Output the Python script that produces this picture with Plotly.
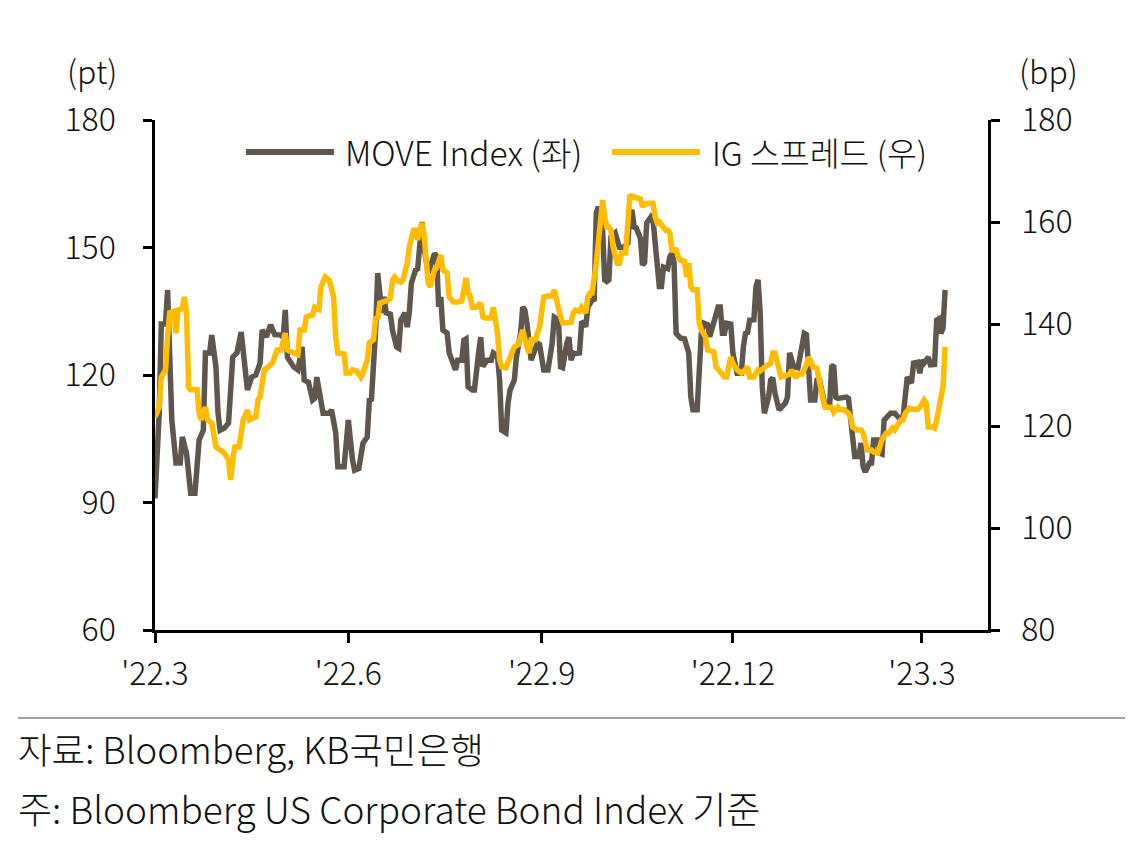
import plotly.graph_objects as go

# ---------------- data ----------------
move_dates = [
    "2022-03-01","2022-03-03","2022-03-04","2022-03-06","2022-03-07","2022-03-09","2022-03-11","2022-03-13",
    "2022-03-14","2022-03-16","2022-03-18","2022-03-20","2022-03-22","2022-03-24","2022-03-25","2022-03-27",
    "2022-03-28","2022-03-30","2022-03-31","2022-04-01","2022-04-03","2022-04-05","2022-04-07","2022-04-09",
    "2022-04-11","2022-04-13","2022-04-14","2022-04-16","2022-04-18","2022-04-20","2022-04-21","2022-04-23",
    "2022-04-25","2022-04-27","2022-04-30","2022-05-01","2022-05-02","2022-05-03","2022-05-04","2022-05-06",
    "2022-05-08","2022-05-10","2022-05-11","2022-05-13","2022-05-15","2022-05-16","2022-05-17","2022-05-19",
    "2022-05-20","2022-05-23","2022-05-24","2022-05-26","2022-05-27","2022-05-30","2022-06-01","2022-06-03",
    "2022-06-04","2022-06-06","2022-06-07","2022-06-08","2022-06-10","2022-06-11","2022-06-12","2022-06-13",
    "2022-06-14","2022-06-15","2022-06-16","2022-06-17","2022-06-18","2022-06-19","2022-06-21","2022-06-22",
    "2022-06-24","2022-06-25","2022-06-26","2022-06-28","2022-06-29","2022-06-30","2022-07-01","2022-07-03",
    "2022-07-04","2022-07-06","2022-07-07","2022-07-08","2022-07-09","2022-07-11","2022-07-12","2022-07-13",
    "2022-07-14","2022-07-15","2022-07-16","2022-07-18","2022-07-19","2022-07-22","2022-07-23","2022-07-25",
    "2022-07-26","2022-07-27","2022-07-28","2022-07-30","2022-07-31","2022-08-02","2022-08-03","2022-08-04",
    "2022-08-06","2022-08-08","2022-08-09","2022-08-11","2022-08-12","2022-08-13","2022-08-15","2022-08-16",
    "2022-08-17","2022-08-19","2022-08-20","2022-08-22","2022-08-23","2022-08-24","2022-08-25","2022-08-27",
    "2022-08-28","2022-08-30","2022-08-31","2022-09-02","2022-09-04","2022-09-06","2022-09-07","2022-09-09",
    "2022-09-10","2022-09-11","2022-09-13","2022-09-14","2022-09-15","2022-09-16","2022-09-17","2022-09-19",
    "2022-09-20","2022-09-21","2022-09-22","2022-09-23","2022-09-25","2022-09-26","2022-09-27","2022-09-28",
    "2022-09-30","2022-10-01","2022-10-02","2022-10-03","2022-10-04","2022-10-06","2022-10-08","2022-10-10",
    "2022-10-12","2022-10-13","2022-10-14","2022-10-15","2022-10-16","2022-10-18","2022-10-19","2022-10-20",
    "2022-10-21","2022-10-23","2022-10-24","2022-10-25","2022-10-26","2022-10-27","2022-10-28","2022-10-29",
    "2022-10-31","2022-11-01","2022-11-02","2022-11-03","2022-11-04","2022-11-06","2022-11-08","2022-11-10",
    "2022-11-11","2022-11-12","2022-11-14","2022-11-15","2022-11-16","2022-11-17","2022-11-19","2022-11-20",
    "2022-11-22","2022-11-24","2022-11-25","2022-11-26","2022-11-27","2022-11-28","2022-11-30","2022-12-01",
    "2022-12-03","2022-12-05","2022-12-06","2022-12-07","2022-12-08","2022-12-09","2022-12-11","2022-12-12",
    "2022-12-13","2022-12-14","2022-12-15","2022-12-16","2022-12-18","2022-12-19","2022-12-20","2022-12-21",
    "2022-12-23","2022-12-24","2022-12-26","2022-12-27","2022-12-28","2022-12-30","2022-12-31","2023-01-01",
    "2023-01-04","2023-01-05","2023-01-06","2023-01-07","2023-01-09","2023-01-10","2023-01-11","2023-01-12",
    "2023-01-14","2023-01-16","2023-01-17","2023-01-18","2023-01-19","2023-01-20","2023-01-22","2023-01-24",
    "2023-01-25","2023-01-26","2023-01-28","2023-01-30","2023-01-31","2023-02-01","2023-02-02","2023-02-04",
    "2023-02-05","2023-02-06","2023-02-08","2023-02-09","2023-02-10","2023-02-11","2023-02-12","2023-02-14",
    "2023-02-16","2023-02-17","2023-02-19","2023-02-20","2023-02-21","2023-02-22","2023-02-24","2023-02-25",
    "2023-02-27","2023-02-28","2023-03-01","2023-03-02","2023-03-04","2023-03-05","2023-03-07","2023-03-08",
    "2023-03-09","2023-03-10","2023-03-11","2023-03-12",
]
move_values = [
    91, 111, 132, 132, 140, 109.4, 99.3, 99.3,
    105.4, 101.6, 92.2, 92.2, 104.7, 107, 125.2, 125.2,
    129.4, 121.9, 111, 107, 107.5, 108.7, 124.2, 125.2,
    130.1, 118.8, 116.5, 119.5, 120, 122.8, 130.6, 129,
    131.8, 129.5, 129.4, 128.8, 135.3, 124.2, 123.5, 121.9,
    121.2, 126.6, 118.8, 118.3, 114.1, 114.5, 119.5, 114.8,
    111, 111, 111.8, 106.4, 98.4, 98.4, 109.4, 100,
    97.6, 98, 102.4, 104, 105.4, 114.1, 114.3, 121.9,
    130.6, 144, 139, 134.6, 138.4, 134.6, 134.3, 130.6,
    126.6, 126.3, 132.9, 134.6, 131.3, 134.6, 141.6, 144.7,
    145, 156, 150.1, 146.4, 144, 147, 148.6, 148,
    136, 138.4, 130.6, 129.9, 125.2, 121.2, 123.5, 123.5,
    128.2, 128.5, 117.2, 116.5, 116.5, 125.2, 128.9, 122,
    123.5, 123.5, 125.2, 124.5, 118.8, 107, 106.4, 113.4,
    116.5, 118.8, 124.2, 129.9, 136, 135.3, 132.2, 123.5,
    125.2, 127.5, 127.2, 121.2, 121.2, 127.5, 133.6, 133,
    121.9, 121.7, 127.5, 128.9, 123.5, 125.2, 125, 125.2,
    132.2, 132.4, 131.3, 136, 137.6, 137.8, 158.1, 159.6,
    154.1, 142.4, 142, 142.4, 152.5, 153.4, 150.1, 150,
    151, 158.1, 158.8, 154.8, 154.6, 152.2, 145.9, 146.5,
    155.8, 157.2, 156.5, 150.1, 146, 140.8, 140.8, 145.4,
    145, 147.8, 148.6, 146.5, 129.8, 128.7, 128.5, 125.2,
    114.8, 111.8, 111.8, 120.4, 129.8, 132.2, 131.8, 129,
    132.2, 136, 136, 129.8, 129.8, 132.2, 132, 125.2,
    120.4, 120.4, 126.6, 129.8, 130, 132.9, 133, 140.8,
    142.4, 134.6, 117.2, 111, 114.8, 118.8, 119.3, 115.8,
    111.8, 112.5, 113.4, 114.8, 125.2, 121.9, 121.9, 121.7,
    129.8, 129.5, 121.9, 114.1, 114.1, 118.8, 119.3, 117.2,
    112.5, 112.5, 121.9, 122.3, 114.8, 114.5, 114.8, 114.8,
    114.5, 109.4, 100.8, 100.8, 104, 98.4, 97.2, 99.3,
    99.3, 104.7, 104.7, 101.6, 101.4, 109.4, 110.1, 111,
    111, 110.5, 109.4, 110, 115.8, 119.5, 118.1, 122.8,
    123, 120.4, 123.5, 122.8, 124.2, 122.4, 122.5, 132.9,
    133.2, 129.8, 131, 140,
]

ig_dates = [
    "2022-03-01","2022-03-03","2022-03-04","2022-03-06","2022-03-07","2022-03-08","2022-03-10","2022-03-11",
    "2022-03-12","2022-03-14","2022-03-15","2022-03-16","2022-03-17","2022-03-18","2022-03-21","2022-03-22",
    "2022-03-23","2022-03-25","2022-03-26","2022-03-28","2022-03-30","2022-04-01","2022-04-03","2022-04-05",
    "2022-04-06","2022-04-07","2022-04-08","2022-04-10","2022-04-12","2022-04-14","2022-04-15","2022-04-18",
    "2022-04-19","2022-04-20","2022-04-22","2022-04-24","2022-04-26","2022-04-28","2022-04-30","2022-05-02",
    "2022-05-03","2022-05-06","2022-05-08","2022-05-09","2022-05-11","2022-05-12","2022-05-14","2022-05-15",
    "2022-05-16","2022-05-18","2022-05-19","2022-05-20","2022-05-21","2022-05-23","2022-05-24","2022-05-25",
    "2022-05-26","2022-05-27","2022-05-30","2022-05-31","2022-06-02","2022-06-03","2022-06-05","2022-06-07",
    "2022-06-08","2022-06-10","2022-06-11","2022-06-13","2022-06-14","2022-06-15","2022-06-16","2022-06-18",
    "2022-06-20","2022-06-21","2022-06-22","2022-06-23","2022-06-24","2022-06-26","2022-06-27","2022-06-29",
    "2022-06-30","2022-07-02","2022-07-03","2022-07-04","2022-07-06","2022-07-07","2022-07-08","2022-07-09",
    "2022-07-10","2022-07-12","2022-07-13","2022-07-15","2022-07-16","2022-07-17","2022-07-18","2022-07-19",
    "2022-07-21","2022-07-23","2022-07-25","2022-07-27","2022-07-28","2022-07-29","2022-07-30","2022-08-01",
    "2022-08-03","2022-08-04","2022-08-05","2022-08-08","2022-08-09","2022-08-11","2022-08-12","2022-08-13",
    "2022-08-15","2022-08-17","2022-08-19","2022-08-21","2022-08-22","2022-08-23","2022-08-25","2022-08-26",
    "2022-08-27","2022-08-29","2022-08-31","2022-09-01","2022-09-02","2022-09-04","2022-09-06","2022-09-07",
    "2022-09-08","2022-09-10","2022-09-11","2022-09-14","2022-09-15","2022-09-16","2022-09-17","2022-09-19",
    "2022-09-20","2022-09-22","2022-09-23","2022-09-24","2022-09-25","2022-09-27","2022-09-28","2022-09-30",
    "2022-10-01","2022-10-02","2022-10-03","2022-10-04","2022-10-05","2022-10-07","2022-10-08","2022-10-09",
    "2022-10-11","2022-10-12","2022-10-13","2022-10-14","2022-10-16","2022-10-18","2022-10-19","2022-10-20",
    "2022-10-22","2022-10-24","2022-10-25","2022-10-26","2022-10-27","2022-10-29","2022-10-30","2022-10-31",
    "2022-11-01","2022-11-02","2022-11-04","2022-11-05","2022-11-06","2022-11-08","2022-11-09","2022-11-10",
    "2022-11-11","2022-11-12","2022-11-14","2022-11-15","2022-11-16","2022-11-18","2022-11-19","2022-11-20",
    "2022-11-22","2022-11-23","2022-11-24","2022-11-25","2022-11-27","2022-11-28","2022-11-29","2022-11-30",
    "2022-12-01","2022-12-03","2022-12-05","2022-12-06","2022-12-08","2022-12-09","2022-12-11","2022-12-12",
    "2022-12-13","2022-12-14","2022-12-16","2022-12-17","2022-12-19","2022-12-20","2022-12-21","2022-12-23",
    "2022-12-24","2022-12-26","2022-12-28","2022-12-29","2022-12-31","2023-01-01","2023-01-03","2023-01-05",
    "2023-01-06","2023-01-07","2023-01-08","2023-01-10","2023-01-11","2023-01-13","2023-01-14","2023-01-16",
    "2023-01-17","2023-01-18","2023-01-20","2023-01-21","2023-01-23","2023-01-24","2023-01-25","2023-01-26",
    "2023-01-27","2023-01-29","2023-01-31","2023-02-01","2023-02-02","2023-02-03","2023-02-05","2023-02-06",
    "2023-02-08","2023-02-09","2023-02-10","2023-02-12","2023-02-13","2023-02-15","2023-02-16","2023-02-18",
    "2023-02-19","2023-02-20","2023-02-21","2023-02-23","2023-02-24","2023-02-26","2023-02-27","2023-02-28",
    "2023-03-02","2023-03-03","2023-03-04","2023-03-06","2023-03-07","2023-03-08","2023-03-09","2023-03-11",
    "2023-03-12",
]
ig_values = [
    121.8, 123.7, 129.6, 131, 137.5, 142.2, 142.5, 138.2,
    142.7, 143, 145.3, 142.2, 127.6, 127.1, 127.1, 122.5,
    121.2, 123.7, 121.2, 120.6, 115.9, 115.3, 114.7, 113.3,
    109.4, 113.3, 115.9, 115.9, 121.2, 123.1, 121.2, 121.8,
    125.1, 125.7, 131, 131.6, 132.4, 134.9, 134.9, 138.2,
    134.9, 134.3, 134, 138.8, 138.8, 141.4, 141.6, 141.8,
    143.3, 142.9, 147.3, 148.6, 149.2, 148.5, 147.3, 145.3,
    137.5, 134.3, 134.1, 130.4, 130.4, 131, 130.8, 129.6,
    130.4, 132.9, 136.3, 136.9, 141.4, 141, 144.1, 144.3,
    144.7, 145, 148.6, 149.2, 148.6, 148.2, 148.6, 151.9,
    155.1, 158.4, 158.4, 156.5, 159.8, 157.8, 151.9, 148,
    147.3, 150.6, 151, 153.5, 150.6, 150.2, 150, 145.3,
    144.3, 144.3, 144.5, 149, 146.1, 145.5, 143.3, 143.3,
    144.1, 141.4, 141.2, 141.2, 143.3, 138.2, 132.9, 131.6,
    131.4, 133.5, 135.5, 136, 137.5, 138.8, 135.5, 134.3,
    136.9, 136.9, 139.4, 142.2, 145.3, 145.5, 145.5, 146.7,
    144.7, 141.4, 140.2, 140.2, 140.3, 142.2, 142.7, 142.5,
    143.3, 142.2, 145.3, 146.1, 146.1, 151.9, 156.5, 164.3,
    161, 159, 159, 158.4, 155.1, 151.9, 151.9, 153.9,
    153.9, 161.8, 165.3, 165, 164.7, 164.5, 163, 163.5,
    163.7, 163.7, 161, 159.8, 160, 158.8, 158.4, 158.4,
    157.8, 154.5, 154.5, 153.2, 152.5, 152.3, 149.2, 151.9,
    147.3, 146.7, 146.7, 140.2, 138.8, 137.5, 134.9, 134.8,
    134.5, 131.6, 131, 130.4, 129.6, 129.6, 131.6, 133.5,
    132.3, 131, 130.4, 130.6, 131.6, 129.6, 129.6, 130.4,
    131, 130.8, 131.6, 131.8, 132.3, 134.3, 134.3, 131.6,
    129.6, 129.8, 130.2, 131, 129.4, 130.2, 130.2, 132,
    133.5, 132.8, 131.6, 131.3, 129, 125.1, 123.7, 123.7,
    123.7, 122.7, 123.7, 123.2, 123.2, 122.8, 122.5, 121.8,
    119.8, 119.2, 119.2, 118.6, 117.3, 115.3, 115.3, 114.9,
    114.7, 115.9, 117.3, 118.6, 118.6, 119.6, 119.2, 120.6,
    121.2, 121.2, 122.5, 123.5, 123.3, 123.3, 123.3, 123.7,
    125.1, 124.5, 119.8, 119.8, 119.6, 121.2, 123.7, 127.6,
    135.5,
]

x_tick_dates = ["2022-03-01", "2022-06-01", "2022-09-01", "2022-12-01", "2023-03-01"]
x_tick_labels = ["'22.3", "'22.6", "'22.9", "'22.12", "'23.3"]
left_ticks = [60, 90, 120, 150, 180]
right_ticks = [80, 100, 120, 140, 160, 180]

series_names = ["MOVE Index (좌)", "IG 스프레드 (우)"]
source_text = "자료: Bloomberg, KB국민은행"
note_text = "주: Bloomberg US Corporate Bond Index 기준"

# ---------------- style ----------------
W, H = 1146, 843
OFF = 8  # page body margin offset
L, R, T, B = 155 - OFF, 988 - OFF, 120 - OFF, 630 - OFF
FONT = "Noto Sans CJK KR"
WEIGHT = 300
TXT = "#111111"
C_MOVE = "#5F574E"
C_IG = "#FFBC00"


def px(x):
    return (x - OFF - L) / (R - L)


def py(y):
    return (B - (y - OFF)) / (B - T)


def f(size):
    return dict(family=FONT, size=size, color=TXT, weight=WEIGHT)


fig = go.Figure()
fig.add_trace(go.Scatter(x=move_dates, y=move_values, mode="lines", name=series_names[0],
                         line=dict(color=C_MOVE, width=5.5), showlegend=False))
fig.add_trace(go.Scatter(x=ig_dates, y=ig_values, mode="lines", name=series_names[1],
                         line=dict(color=C_IG, width=5.5), yaxis="y2", showlegend=False))

axis_common = dict(showline=True, linecolor="black", linewidth=2.5, ticks="outside",
                   tickwidth=2.5, tickcolor="black", showgrid=False, zeroline=False,
                   tickfont=f(32))

fig.update_layout(
    width=W, height=H,
    margin=dict(l=L, r=W - R, t=T, b=H - B),
    paper_bgcolor="white", plot_bgcolor="white",
    font=f(32),
    xaxis=dict(range=["2022-03-01", "2023-04-01 10:00"], tickmode="array",
               tickvals=x_tick_dates, ticktext=x_tick_labels, ticklen=10,
               ticklabelstandoff=4, **axis_common),
    yaxis=dict(range=[60, 180], tickmode="array", tickvals=left_ticks, ticklen=9,
               ticklabelstandoff=21, **axis_common),
    yaxis2=dict(range=[80, 180], tickmode="array", tickvals=right_ticks, ticklen=9,
                overlaying="y", side="right", ticklabelstandoff=15, **axis_common),
)

annos = [
    dict(text="(pt)", x=px(92), y=py(70), xanchor="center", yanchor="middle", font=f(32)),
    dict(text="(bp)", x=px(1048), y=py(70), xanchor="center", yanchor="middle", font=f(32)),
    dict(text=series_names[0], x=px(343), y=py(151), xanchor="left", yanchor="middle", font=f(33.5)),
    dict(text=series_names[1], x=px(710), y=py(151), xanchor="left", yanchor="middle", font=f(32.5)),
    dict(text=source_text, x=px(16), y=py(748), xanchor="left", yanchor="middle", font=f(36.5)),
    dict(text=note_text, x=px(16), y=py(808), xanchor="left", yanchor="middle", font=f(37)),
]
for a in annos:
    fig.add_annotation(xref="paper", yref="paper", showarrow=False, **a)

# legend samples and footer rule
fig.add_shape(type="line", xref="paper", yref="paper", x0=px(246), x1=px(334), y0=py(152), y1=py(152),
              line=dict(color=C_MOVE, width=6))
fig.add_shape(type="line", xref="paper", yref="paper", x0=px(612), x1=px(700), y0=py(152), y1=py(152),
              line=dict(color=C_IG, width=6))
fig.add_shape(type="line", xref="paper", yref="paper", x0=px(18), x1=px(1125), y0=py(718), y1=py(718),
              line=dict(color="#444444", width=1.2))

fig.write_html("out.html")
